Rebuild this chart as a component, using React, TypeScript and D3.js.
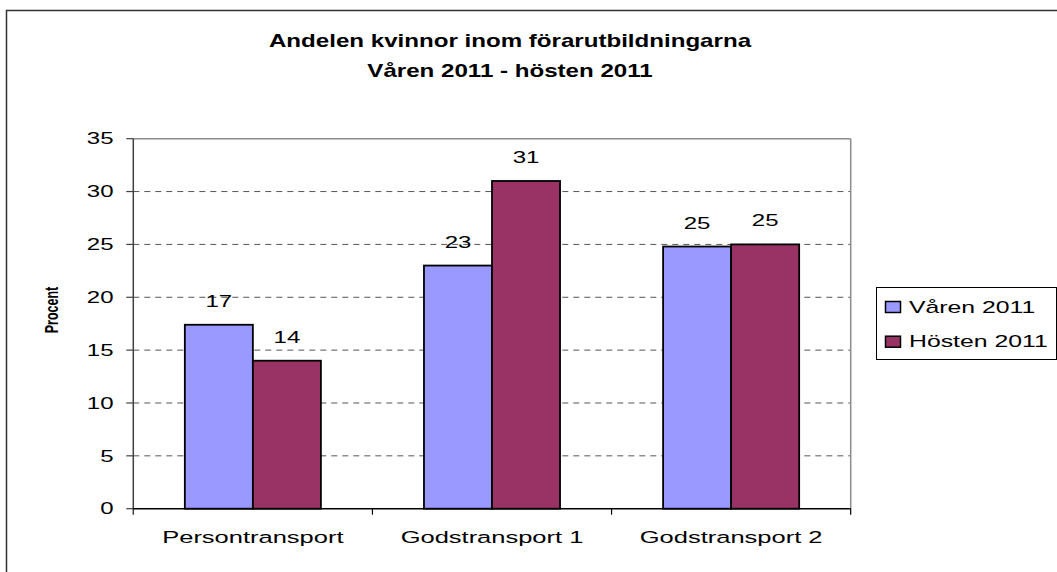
import React from 'react';
import * as d3 from 'd3';

// data
const categories = ['Persontransport', 'Godstransport 1', 'Godstransport 2'];
const seriesNames = ['Våren 2011', 'Hösten 2011'];
const varen = [17.4, 23, 24.8];
const hosten = [14, 31, 25];
const yTicks = [0, 5, 10, 15, 20, 25, 30, 35];
const titleLines = ['Andelen kvinnor inom förarutbildningarna', 'Våren 2011 - hösten 2011'];

const colors = ['#9999FF', '#993366'];
const font = '"Liberation Sans", Arial, sans-serif';

const W = 1057;
const H = 572;
const plot = { left: 133.3, right: 850.7, top: 138.7, bottom: 508.7 };

// stretched text, like the old picture
const SText = ({ x, y, sx = 1.5, size = 16, weight = 'normal', anchor = 'middle', dy = '0', children }: any) => (
  <text
    transform={`translate(${x},${y}) scale(${sx},1)`}
    textAnchor={anchor}
    dy={dy}
    fontFamily={font}
    fontSize={size}
    fontWeight={weight}
    fill="#000"
  >
    {children}
  </text>
);

const App = () => {
  const y = d3.scaleLinear().domain([0, 35]).range([plot.bottom, plot.top]);
  const x = d3
    .scaleBand<string>()
    .domain(categories)
    .range([plot.left, plot.right])
    .paddingInner(0.431)
    .paddingOuter(0.2155);
  const xs = d3.scaleBand<number>().domain([0, 1]).range([0, x.bandwidth()]).padding(0);
  const fmt = d3.format('.0f');
  const series = [varen, hosten];
  const step = x.step();

  return (
    <svg width={W} height={H} style={{ position: 'absolute', left: 0, top: 0, background: '#fff' }}>
      {/* outer chart border */}
      <rect x={6.5} y={10.5} width={1200} height={700} fill="#fff" stroke="#333" strokeWidth={1.5} />

      {/* title */}
      {titleLines.map((t, i) => (
        <SText key={t} x={510} y={47.3 + i * 30} sx={1.34} size={18} weight="bold">
          {t}
        </SText>
      ))}

      {/* gridlines */}
      {yTicks
        .filter((t) => t > 0 && t < 35)
        .map((t) => (
          <line
            key={t}
            x1={plot.left}
            x2={plot.right}
            y1={y(t)}
            y2={y(t)}
            stroke="#555"
            strokeWidth={1}
            strokeDasharray="6,5"
          />
        ))}
      {/* plot frame top/right */}
      <line x1={plot.left} x2={plot.right} y1={plot.top} y2={plot.top} stroke="#8c8c8c" strokeWidth={1.5} />
      <line x1={plot.right} x2={plot.right} y1={plot.top} y2={plot.bottom} stroke="#8c8c8c" strokeWidth={1.5} />

      {/* bars */}
      {series.map((vals, si) =>
        vals.map((v, ci) => {
          const bx = (x(categories[ci]) as number) + (xs(si) as number);
          return (
            <rect
              key={`${si}-${ci}`}
              x={bx}
              y={y(v)}
              width={xs.bandwidth()}
              height={y(0) - y(v)}
              fill={colors[si]}
              stroke="#000"
              strokeWidth={1.8}
            />
          );
        })
      )}

      {/* value labels */}
      {series.map((vals, si) =>
        vals.map((v, ci) => {
          const cx = (x(categories[ci]) as number) + (xs(si) as number) + xs.bandwidth() / 2;
          return (
            <SText key={`l${si}-${ci}`} x={cx} y={y(v) - 18}>
              {fmt(v)}
            </SText>
          );
        })
      )}

      {/* y axis */}
      <line x1={plot.left} x2={plot.left} y1={plot.top} y2={plot.bottom + 6} stroke="#404040" strokeWidth={1.5} />
      {yTicks.map((t) => (
        <g key={t}>
          <line x1={plot.left - 7} x2={plot.left} y1={y(t)} y2={y(t)} stroke="#404040" strokeWidth={1.2} />
          <SText x={113.5} y={y(t)} anchor="end" dy="0.36em">
            {t}
          </SText>
        </g>
      ))}

      {/* x axis */}
      <line x1={plot.left} x2={plot.right} y1={plot.bottom} y2={plot.bottom} stroke="#000" strokeWidth={1.5} />
      {categories.map((c, i) => (
        <line
          key={`t${c}`}
          x1={plot.left + step * (i + 1)}
          x2={plot.left + step * (i + 1)}
          y1={plot.bottom}
          y2={plot.bottom + 6}
          stroke="#000"
          strokeWidth={1.2}
        />
      ))}
      {categories.map((c) => (
        <SText key={c} x={(x(c) as number) + x.bandwidth() / 2} y={542.7} size={17} sx={1.5}>
          {c}
        </SText>
      ))}

      {/* y axis title */}
      <text
        transform="translate(58,310) scale(1.5,1) rotate(-90)"
        textAnchor="middle"
        fontFamily={font}
        fontSize={12.5}
        fontWeight="bold"
      >
        Procent
      </text>

      {/* legend */}
      <rect x={876.5} y={287.5} width={180} height={72} fill="#fff" stroke="#000" strokeWidth={1} />
      {seriesNames.map((n, i) => (
        <g key={n}>
          <rect x={885.5} y={301.5 + i * 34.7} width={15} height={11} fill={colors[i]} stroke="#000" strokeWidth={1.5} />
          <SText x={909} y={312.7 + i * 34.7} anchor="start" sx={1.55}>
            {n}
          </SText>
        </g>
      ))}
    </svg>
  );
};

export default App;
